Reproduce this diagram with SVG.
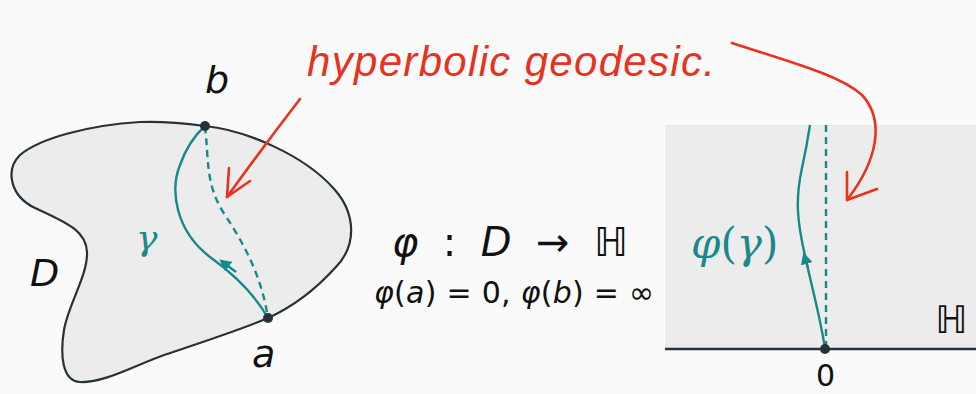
<svg xmlns="http://www.w3.org/2000/svg" width="976" height="394" viewBox="0 0 976 394">
<defs>
<style>
.bg{fill:#fafafa}
.region{fill:#ececec;stroke:#263238;stroke-width:2.2}
.gam{fill:none;stroke:#17898a;stroke-width:2.4}
.geo{fill:none;stroke:#17898a;stroke-width:2.4;stroke-dasharray:7 5}
.pt{fill:#263238}
.red{fill:none;stroke:#e8321e;stroke-width:2.6;stroke-linecap:round;stroke-linejoin:round}
.lbl{font-family:"DejaVu Sans","Open Sans",sans-serif;font-style:italic;fill:#111}
.math{font-family:"DejaVu Sans","Open Sans",sans-serif;fill:#111}
.teal{font-family:"DejaVu Serif","Liberation Serif",serif;fill:#17898a}
.hand{font-family:"Liberation Sans","DejaVu Sans",sans-serif;font-style:italic;fill:#e8321e}
</style>
<marker id="tri" viewBox="0 0 10 10" refX="5" refY="5" markerWidth="12" markerHeight="12" markerUnits="userSpaceOnUse" orient="auto">
<path d="M0,0 L10,5 L0,10 Z" fill="#17898a"/>
</marker>
</defs>
<rect class="bg" x="0" y="0" width="976" height="394"/>

<g id="node-D">
<path class="region" d="M205,126 C245,130 305,155 335,190 C355,213 358,245 335,268 C315,290 290,308 268,318 C240,330 200,343 167,354 C135,365 105,383 80,382 C62,381 60,355 64,330 C68,305 88,275 87,252 C86,230 65,222 35,208 C10,196 5,170 20,155 C40,138 90,125 140,122 C165,121 190,124 205,126 Z"/>
<path class="geo" d="M205,126 C209,160 205,185 225,215 C248,250 262,280 268,318"/>
<path class="gam" d="M268,318 C255,295 235,275 210,257 C175,230 170,190 180,165 C186,148 195,135 205,126"/>
<path d="M236,272 L224,263" fill="none" stroke="#17898a" stroke-width="2.4" marker-end="url(#tri)"/>
<circle class="pt" cx="205" cy="126" r="5"/>
<circle class="pt" cx="268" cy="318" r="5"/>
<text class="lbl" x="205" y="93" font-size="38">b</text>
<text class="lbl" x="252" y="367" font-size="38">a</text>
<text class="lbl" x="30" y="286" font-size="38">D</text>
<text class="teal" x="136" y="250" font-size="36" font-style="italic">γ</text>
</g>

<g id="node-map">
<text class="math" x="392" y="256" font-size="40" textLength="236" lengthAdjust="spacing"><tspan font-style="italic">φ</tspan> : <tspan font-style="italic">D</tspan> → ℍ</text>
<text class="math" x="374" y="303" font-size="30" textLength="280" lengthAdjust="spacing"><tspan font-style="italic">φ</tspan>(<tspan font-style="italic">a</tspan>) = 0, <tspan font-style="italic">φ</tspan>(<tspan font-style="italic">b</tspan>) = ∞</text>
</g>

<g id="node-H">
<rect x="665" y="125" width="311" height="224" fill="#ececec"/>
<line x1="665" y1="349" x2="976" y2="349" stroke="#263238" stroke-width="2.6"/>
<line class="geo" x1="826" y1="125" x2="826" y2="349"/>
<path class="gam" d="M825,349 C821,320 812,288 806,260 C797,222 795,200 802,168 C806,150 808,138 810,125"/>
<path d="M808,268 L805,258" fill="none" stroke="#17898a" stroke-width="2.4" marker-end="url(#tri)"/>
<circle class="pt" cx="825" cy="349" r="5"/>
<text class="teal" x="691" y="258" font-size="42"><tspan font-style="italic">φ</tspan>(<tspan font-style="italic">γ</tspan>)</text>
<text class="math" x="935" y="333" font-size="38" fill="#333">ℍ</text>
<text class="math" x="816" y="386" font-size="30">0</text>
</g>

<g id="connectors">
<path class="red" d="M300,99 C280,125 250,165 227,197"/>
<path class="red" d="M229,168 L227,197 L250,181"/>
<path class="red" d="M732,43 C790,62 840,75 862,95 C885,120 878,160 847,200"/>
<path class="red" d="M847,172 L847,200 L877,189"/>
</g>

<g id="annotation">
<text class="hand" x="307" y="76" font-size="42" textLength="408" lengthAdjust="spacing">hyperbolic geodesic.</text>
</g>
</svg>
